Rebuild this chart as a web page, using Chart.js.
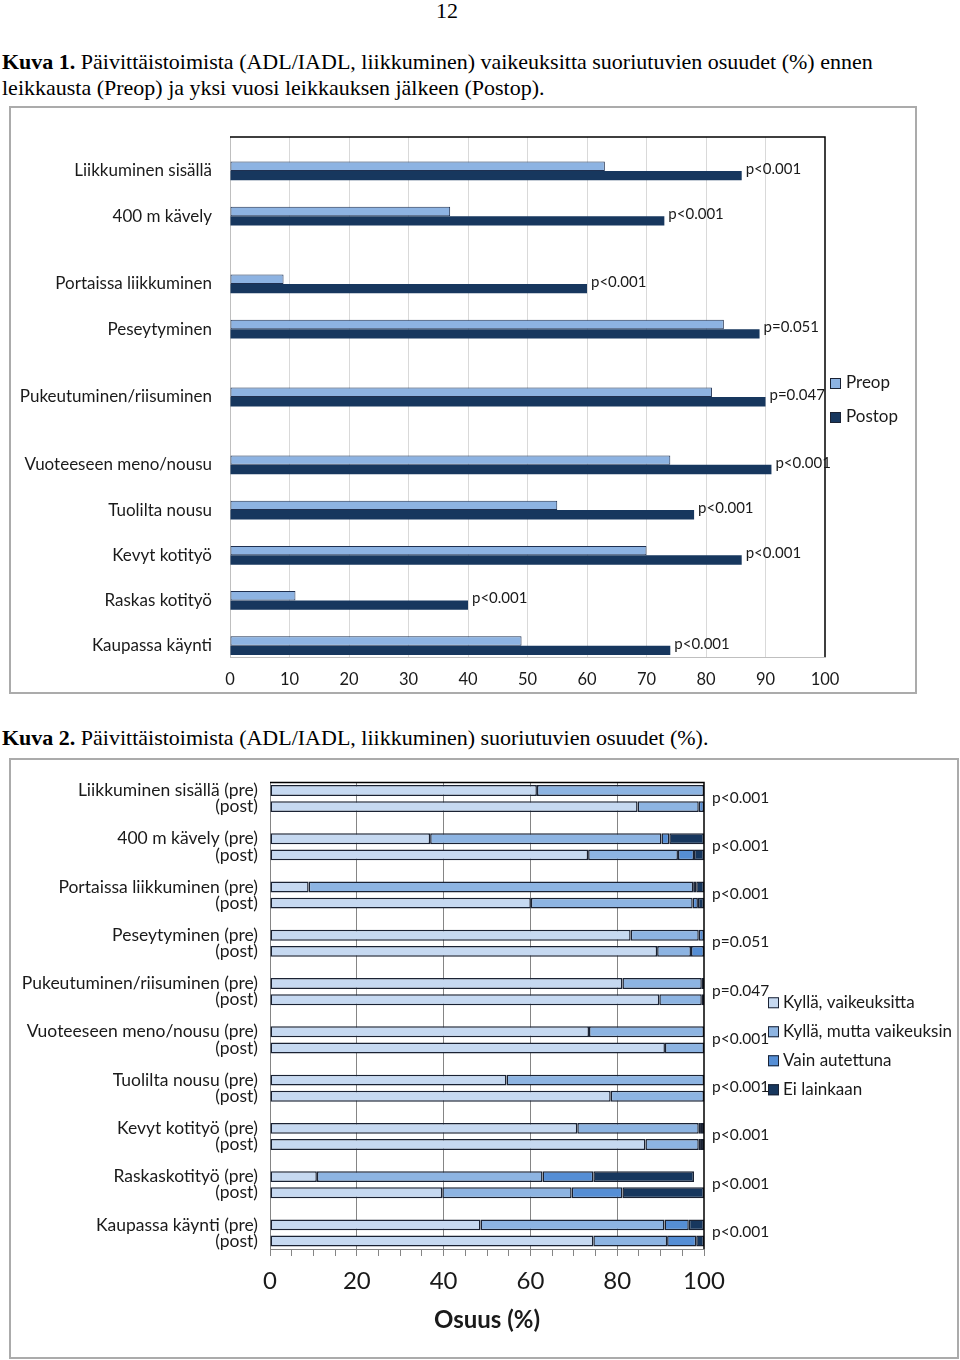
<!DOCTYPE html>
<html>
<head>
<meta charset="utf-8">
<script src="https://cdn.jsdelivr.net/npm/chart.js@4.4.0/dist/chart.umd.min.js"></script>
<style>
body { margin: 0; background: #fff; width: 960px; height: 1360px; position: relative; font-family: "Liberation Serif", "Times New Roman", serif; color: #000; }
.pageno { position: absolute; left: 436px; top: -1px; font-size: 22px; line-height: 24px; }
.caption { position: absolute; left: 2px; font-size: 22px; line-height: 26px; white-space: nowrap; }
.frame { position: absolute; border: 2px solid #ABABAB; background: #fff; }
</style>
</head>
<body>
<div class="pageno">12</div>
<div class="caption" style="top:49px"><b>Kuva 1.</b> Päivittäistoimista (ADL/IADL, liikkuminen) vaikeuksitta suoriutuvien osuudet (%) ennen<br>leikkausta (Preop) ja yksi vuosi leikkauksen jälkeen (Postop).</div>
<div class="frame" style="left:9px; top:106px; width:904px; height:584px;"><canvas id="chart1"></canvas></div>
<div class="caption" style="top:725px"><b>Kuva 2.</b> Päivittäistoimista (ADL/IADL, liikkuminen) suoriutuvien osuudet (%).</div>
<div class="frame" style="left:9px; top:758px; width:946px; height:597px;"><canvas id="chart2"></canvas></div>

<script>
// Kuva 1
const categories1 = ["Liikkuminen sisällä", "400 m kävely", "Portaissa liikkuminen", "Peseytyminen", "Pukeutuminen/riisuminen", "Vuoteeseen meno/nousu", "Tuolilta nousu", "Kevyt kotityö", "Raskas kotityö", "Kaupassa käynti"];
const preop = [63, 37, 9, 83, 81, 74, 55, 70, 11, 49];
const postop = [86, 73, 60, 89, 90, 91, 78, 86, 40, 74];
const pValues1 = ["p<0.001", "p<0.001", "p<0.001", "p=0.051", "p=0.047", "p<0.001", "p<0.001", "p<0.001", "p<0.001", "p<0.001"];
// blank rows the original sheet has above each item
const emptyRowsBefore = [1, 1, 2, 1, 2, 2, 1, 1, 1, 1];
const ticks1 = [0, 10, 20, 30, 40, 50, 60, 70, 80, 90, 100];

// Kuva 2
const categories2 = ["Liikkuminen sisällä", "400 m kävely", "Portaissa liikkuminen", "Peseytyminen", "Pukeutuminen/riisuminen", "Vuoteeseen meno/nousu", "Tuolilta nousu", "Kevyt kotityö", "Raskaskotityö", "Kaupassa käynti"];
const seriesNames2 = ["Kyllä, vaikeuksitta", "Kyllä, mutta vaikeuksin", "Vain autettuna", "Ei lainkaan"];
const easyPre = [61.5, 36.9, 8.9, 83.1, 81.2, 73.5, 54.5, 70.8, 10.8, 48.5];
const hardPre = [38.5, 53.3, 88.6, 15.7, 18.3, 26.5, 45.5, 28.0, 52.0, 42.4];
const helpPre = [0, 1.8, 0.7, 1.2, 0.5, 0, 0, 0.5, 11.7, 5.6];
const notPre = [0, 8.0, 1.8, 0, 0, 0, 0, 0.7, 23.2, 3.5];
const easyPost = [84.7, 73.3, 60.1, 89.2, 89.7, 91.0, 78.5, 86.5, 39.7, 74.5];
const hardPost = [14.1, 20.7, 37.3, 7.8, 9.8, 9.0, 21.5, 12.3, 29.8, 17.0];
const helpPost = [1.2, 3.7, 1.2, 3.0, 0.5, 0, 0, 0.5, 11.7, 6.7];
const notPost = [0, 2.3, 1.4, 0, 0, 0, 0, 0.7, 18.8, 1.8];
const pValues2 = ["p<0.001", "p<0.001", "p<0.001", "p=0.051", "p=0.047", "p<0.001", "p<0.001", "p<0.001", "p<0.001", "p<0.001"];
const ticks2 = [0, 20, 40, 60, 80, 100];

Chart.defaults.font.family = "Lato";
Chart.defaults.color = "#1a1a1a";
Chart.defaults.animation = false;

// black top + right edge of the plot area
const plotEdge = {
  id: "plotEdge",
  afterDatasetsDraw: function (chart) {
    var a = chart.chartArea, ctx = chart.ctx;
    ctx.save();
    ctx.strokeStyle = "#000";
    ctx.lineWidth = 1.5;
    ctx.beginPath();
    ctx.moveTo(a.left, a.top);
    ctx.lineTo(a.right, a.top);
    ctx.lineTo(a.right, a.bottom);
    ctx.stroke();
    ctx.restore();
  }
};

const boxLegend = {
  id: "boxLegend",
  afterDraw: function (chart, args, opts) {
    var a = chart.chartArea, ctx = chart.ctx;
    var y0 = (a.top + a.bottom) / 2 + opts.firstY;
    ctx.save();
    ctx.font = opts.fontSize + "px Lato";
    ctx.textBaseline = "middle";
    chart.data.datasets.forEach(function (ds, i) {
      var y = y0 + i * opts.step;
      var x = a.right + opts.boxX;
      ctx.fillStyle = ds.backgroundColor;
      ctx.fillRect(x, y - 5, 11, 11);
      ctx.strokeStyle = "#1a2233";
      ctx.lineWidth = 1;
      ctx.strokeRect(x + 0.5, y - 4.5, 10, 10);
      ctx.fillStyle = "#1a1a1a";
      ctx.fillText(ds.label, a.right + opts.textX, y);
    });
    ctx.restore();
  }
};

var rows1 = [], pre1 = [], post1 = [], rowOf1 = [];
categories1.forEach(function (name, i) {
  for (var k = 0; k < emptyRowsBefore[i]; k++) {
    rows1.push(""); pre1.push(null); post1.push(null);
  }
  rowOf1.push(rows1.length);
  rows1.push(name); pre1.push(preop[i]); post1.push(postop[i]);
});

const pLabels1 = {
  id: "pLabels1",
  afterDatasetsDraw: function (chart) {
    var ctx = chart.ctx, meta = chart.getDatasetMeta(1), ys = chart.scales.y;
    ctx.save();
    ctx.font = "15px Lato";
    ctx.fillStyle = "#1a1a1a";
    ctx.textBaseline = "middle";
    rowOf1.forEach(function (r, i) {
      ctx.fillText(pValues1[i], meta.data[r].x + 4, ys.getPixelForValue(r) - 2);
    });
    ctx.restore();
  }
};

new Chart(document.getElementById("chart1"), {
  type: "bar",
  data: {
    labels: rows1,
    datasets: [
      { label: "Preop", data: pre1, backgroundColor: "#8DB3E2", borderColor: "#1F3050", borderWidth: 1, borderSkipped: false },
      { label: "Postop", data: post1, backgroundColor: "#17375E", borderWidth: 0 }
    ]
  },
  options: {
    indexAxis: "y",
    responsive: true,
    maintainAspectRatio: false,
    layout: { padding: { top: 29, right: 90, bottom: 0, left: 0 } },
    datasets: { bar: { categoryPercentage: 0.83, barPercentage: 1 } },
    plugins: { legend: { display: false }, tooltip: { enabled: false },
      boxLegend: { firstY: -14, step: 34, boxX: 5, textX: 21, fontSize: 17 } },
    scales: {
      x: {
        min: 0, max: 100,
        afterBuildTicks: function (s) { s.ticks = ticks1.map(function (v) { return { value: v }; }); },
        afterFit: function (s) { s.height = 35; },
        grid: { color: function (c) { return c.tick && c.tick.value === 100 ? "rgba(0,0,0,0)" : "#D9D9D9"; }, drawTicks: false },
        border: { color: "#BFBFBF" },
        ticks: { font: { size: 16.5 }, padding: 13 }
      },
      y: {
        afterFit: function (s) { s.width = 219; },
        grid: { display: false, drawTicks: false },
        border: { color: "#BFBFBF" },
        ticks: { autoSkip: false, font: { size: 17 }, padding: 18 }
      }
    }
  },
  plugins: [plotEdge, pLabels1, boxLegend]
});

// rows: pre, post, blank, pre, post, ...
var rows2 = [], preRow2 = [];
var segPre = [easyPre, hardPre, helpPre, notPre];
var segPost = [easyPost, hardPost, helpPost, notPost];
var segData = [[], [], [], []];
categories2.forEach(function (name, i) {
  if (i > 0) {
    rows2.push("");
    segData.forEach(function (d) { d.push(null); });
  }
  preRow2.push(rows2.length);
  rows2.push(name + " (pre)");
  rows2.push("(post)");
  segData.forEach(function (d, s) {
    d.push(segPre[s][i] || null);
    d.push(segPost[s][i] || null);
  });
});

const segColors = ["#C6D9F1", "#8DB4E2", "#558ED5", "#17375E"];

const pLabels2 = {
  id: "pLabels2",
  afterDatasetsDraw: function (chart) {
    var ctx = chart.ctx, ys = chart.scales.y, a = chart.chartArea;
    ctx.save();
    ctx.font = "15.5px Lato";
    ctx.fillStyle = "#1a1a1a";
    ctx.textBaseline = "middle";
    preRow2.forEach(function (r, i) {
      var y = (ys.getPixelForValue(r) + ys.getPixelForValue(r + 1)) / 2 - 1;
      ctx.fillText(pValues2[i], a.right + 8, y);
    });
    ctx.restore();
  }
};

new Chart(document.getElementById("chart2"), {
  type: "bar",
  data: {
    labels: rows2,
    datasets: seriesNames2.map(function (name, s) {
      return { label: name, data: segData[s], backgroundColor: segColors[s], borderColor: "#1a2233", borderWidth: 1.5, borderSkipped: false };
    })
  },
  options: {
    indexAxis: "y",
    responsive: true,
    maintainAspectRatio: false,
    layout: { padding: { top: 16, right: 253, bottom: 16, left: 0 } },
    datasets: { bar: { categoryPercentage: 1, barPercentage: 0.68 } },
    plugins: { legend: { display: false }, tooltip: { enabled: false },
      boxLegend: { firstY: -13.5, step: 29, boxX: 64, textX: 79, fontSize: 17 } },
    scales: {
      x: {
        stacked: true,
        min: 0, max: 100,
        afterBuildTicks: function (s) {
          var t = [];
          for (var v = 0; v <= 100; v += 5) t.push({ value: v });
          s.ticks = t;
        },
        afterFit: function (s) { s.height = 92; },
        grid: {
          color: function (c) { return c.tick && c.tick.value % 20 === 0 && c.tick.value < 100 ? "#858585" : "rgba(0,0,0,0)"; },
          tickColor: "#858585", tickLength: 7
        },
        border: { color: "#858585" },
        ticks: {
          autoSkip: false, maxRotation: 0, font: { size: 24 }, padding: 11,
          callback: function (v) { return ticks2.indexOf(v) >= 0 ? String(v) : ""; }
        },
        title: { display: true, text: "Osuus (%)", font: { size: 24, weight: "bold" }, padding: { top: 0, bottom: 6 }, color: "#1a1a1a" }
      },
      y: {
        stacked: true,
        afterFit: function (s) { s.width = 259; },
        grid: { display: false, drawTicks: false },
        border: { color: "#858585" },
        ticks: { autoSkip: false, font: { size: 17.5 }, padding: 12 }
      }
    }
  },
  plugins: [plotEdge, pLabels2, boxLegend]
});
</script>
</body>
</html>
